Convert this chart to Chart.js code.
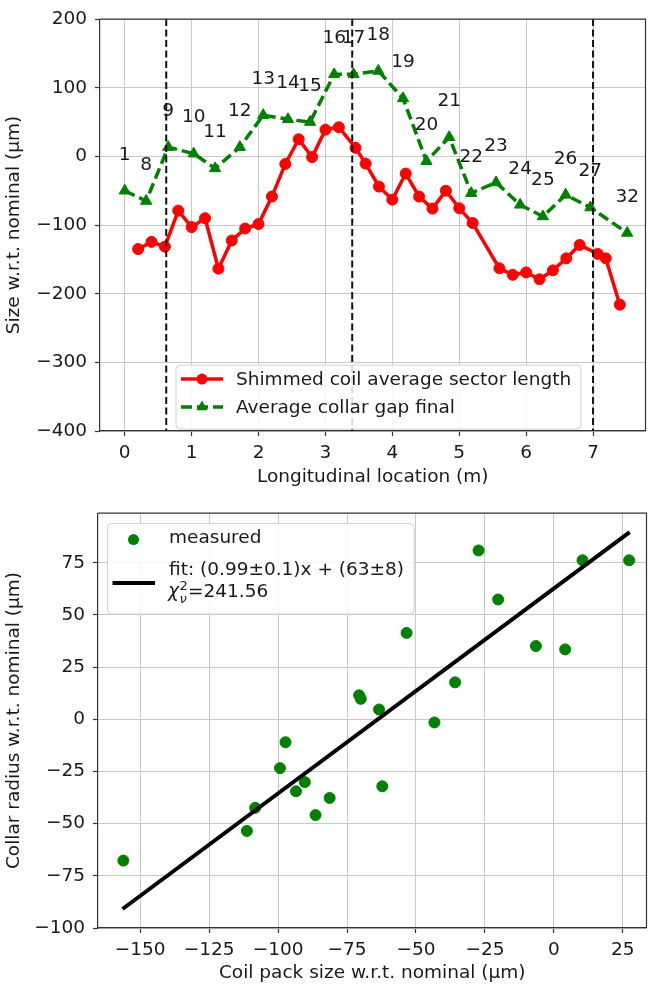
<!DOCTYPE html>
<html>
<head>
<meta charset="utf-8">
<script src="https://cdn.jsdelivr.net/npm/chart.js@4.4.0/dist/chart.umd.min.js"></script>
<style>
  body { margin: 0; background: #fff; }
  canvas { display: block; }
</style>
</head>
<body>
<canvas id="profile" width="653" height="494"></canvas>
<canvas id="correlation" width="653" height="494"></canvas>
<script>
// top panel: shimmed coil sector length and collar gap along the magnet (m, um)
const coilLoc = [0.2, 0.4, 0.6, 0.8, 1.0, 1.2, 1.4, 1.6, 1.8, 2.0, 2.2, 2.4, 2.6, 2.8, 3.0, 3.2, 3.45, 3.6,
  3.8, 4.0, 4.2, 4.4, 4.6, 4.8, 5.0, 5.2, 5.6, 5.8, 6.0, 6.2, 6.4, 6.6, 6.8, 7.07, 7.19, 7.4];
const coilLength = [-135, -124.5, -131.5, -79, -103, -90, -163.5, -122.5, -105, -98.5, -58.5, -11, 25, -1, 39, 42.5, 12.5, -10.5,
  -44, -63, -25, -58.5, -76, -50, -75.5, -97, -163, -172.5, -169, -179, -166, -148.5, -129, -142, -148.5, -216];
const gapLoc = [0, 0.32, 0.65, 1.03, 1.35, 1.72, 2.07, 2.44, 2.77, 3.13, 3.42, 3.79, 4.16, 4.51, 4.85,
  5.18, 5.55, 5.91, 6.25, 6.59, 6.96, 7.51];
const collarGap = [-50, -65, 13.5, 4, -17.5, 13.5, 60, 54, 50, 119.5, 119.5, 124.5, 84.5, -7, 28,
  -53.5, -38, -70.5, -87.5, -56, -74.5, -111.5];
const gapLabels = ['1', '8', '9', '10', '11', '12', '13', '14', '15', '16', '17', '18', '19', '20', '21',
  '22', '23', '24', '25', '26', '27', '32'];
const sectionBounds = [0.62, 3.4, 7.0];

// bottom panel: collar radius against coil pack size (um)
const packSize = [-156.1, -111.3, -108.3, -99.3, -97.3, -93.5, -90.3, -86.4, -81.3, -70.6, -70, -63.4,
  -62.2, -53.4, -43.3, -35.8, -27.3, -20.2, -6.5, 4.1, 10.4, 27.3];
const collarRadius = [-67.7, -53.5, -42.4, -23.4, -11, -34.5, -30.1, -45.9, -37.7, 11.5, 9.8, 4.7,
  -32.1, 41.4, -1.5, 17.7, 80.9, 57.4, 35.1, 33.5, 76.2, 76.2];
const fitX = [-156.4, 27.5];
const fitY = [-90.9, 89.7];

const FONT = '"DejaVu Sans", sans-serif';
const TEXT = '#1a1a1a';
Chart.defaults.font.family = FONT;
Chart.defaults.font.size = 18.5;
Chart.defaults.color = TEXT;

const toXY = (xs, ys) => xs.map((x, i) => ({ x: x, y: ys[i] }));

function axis(o) {
  return {
    type: 'linear',
    min: o.min,
    max: o.max,
    ticks: {
      stepSize: o.step,
      includeBounds: false,
      padding: o.pad,
      autoSkip: false,
      maxRotation: 0,
      callback: v => String(v).replace('-', '\u2212')
    },
    afterBuildTicks: s => {
      s.ticks = s.ticks.filter(t => Math.abs(t.value / o.step - Math.round(t.value / o.step)) < 1e-6);
    },
    grid: { color: '#c8c8c8', lineWidth: 1, tickColor: '#333', tickLength: 5, tickWidth: 1.2 },
    border: { display: true, color: '#333', width: 1.2 },
    title: { display: true, text: o.title, padding: o.titlePad },
    afterFit: s => {
      if (s.isHorizontal()) s.height = o.size;
      else s.width = o.size;
    }
  };
}

function frame(chart) {
  const { ctx, chartArea: a } = chart;
  ctx.save();
  ctx.strokeStyle = '#333';
  ctx.lineWidth = 1.2;
  ctx.beginPath();
  ctx.moveTo(a.left, a.top);
  ctx.lineTo(a.right, a.top);
  ctx.lineTo(a.right, a.bottom);
  ctx.stroke();
  ctx.restore();
}

function legendBox(ctx, left, top, w, h) {
  ctx.beginPath();
  if (ctx.roundRect) ctx.roundRect(left, top, w, h, 4);
  else ctx.rect(left, top, w, h);
  ctx.fillStyle = 'rgba(255,255,255,0.85)';
  ctx.fill();
  ctx.strokeStyle = '#d0d0d0';
  ctx.lineWidth = 1;
  ctx.stroke();
}

function triangle(ctx, x, y, r) {
  ctx.beginPath();
  ctx.moveTo(x, y - r);
  ctx.lineTo(x + r * 0.866, y + r * 0.5);
  ctx.lineTo(x - r * 0.866, y + r * 0.5);
  ctx.closePath();
  ctx.fill();
}

const profileExtras = {
  id: 'profileExtras',
  afterDatasetsDraw(chart) {
    const { ctx, chartArea: a, scales: { x, y } } = chart;
    ctx.save();

    // section boundaries
    ctx.strokeStyle = '#111';
    ctx.lineWidth = 2;
    ctx.setLineDash([7, 3.5]);
    sectionBounds.forEach(v => {
      const px = x.getPixelForValue(v);
      ctx.beginPath();
      ctx.moveTo(px, a.top);
      ctx.lineTo(px, a.bottom);
      ctx.stroke();
    });
    ctx.setLineDash([]);

    // numbers above the collar gap points
    ctx.fillStyle = TEXT;
    ctx.font = '18.5px ' + FONT;
    ctx.textAlign = 'center';
    ctx.textBaseline = 'middle';
    gapLabels.forEach((t, i) => {
      ctx.fillText(t, x.getPixelForValue(gapLoc[i]), y.getPixelForValue(collarGap[i]) - 36);
    });

    // legend
    const bl = a.left + 76, bt = a.top + 346;
    legendBox(ctx, bl, bt, 405, 64);
    const rows = [bt + 14, bt + 42];
    ctx.lineWidth = 3.5;
    ctx.strokeStyle = '#ff0000';
    ctx.beginPath();
    ctx.moveTo(bl + 5, rows[0]);
    ctx.lineTo(bl + 47, rows[0]);
    ctx.stroke();
    ctx.fillStyle = '#ff0000';
    ctx.beginPath();
    ctx.arc(bl + 26, rows[0], 5.5, 0, Math.PI * 2);
    ctx.fill();
    ctx.strokeStyle = '#008000';
    ctx.setLineDash([11, 5]);
    ctx.beginPath();
    ctx.moveTo(bl + 5, rows[1]);
    ctx.lineTo(bl + 47, rows[1]);
    ctx.stroke();
    ctx.setLineDash([]);
    ctx.fillStyle = '#008000';
    triangle(ctx, bl + 26, rows[1], 6.5);
    ctx.fillStyle = TEXT;
    ctx.textAlign = 'left';
    ctx.fillText('Shimmed coil average sector length', bl + 60, rows[0] + 1);
    ctx.fillText('Average collar gap final', bl + 60, rows[1] + 1);
    ctx.restore();
  },
  afterDraw: frame
};

const correlationExtras = {
  id: 'correlationExtras',
  afterDatasetsDraw(chart) {
    const { ctx, chartArea: a } = chart;
    ctx.save();
    const bl = a.left + 9.5, bt = a.top + 10.5;
    legendBox(ctx, bl, bt, 306.5, 90.5);
    ctx.fillStyle = '#008000';
    ctx.beginPath();
    ctx.arc(bl + 26, bt + 16, 5.5, 0, Math.PI * 2);
    ctx.fill();
    ctx.strokeStyle = '#000';
    ctx.lineWidth = 4;
    ctx.beginPath();
    ctx.moveTo(bl + 5, bt + 59.5);
    ctx.lineTo(bl + 47.5, bt + 59.5);
    ctx.stroke();

    ctx.fillStyle = TEXT;
    ctx.textAlign = 'left';
    ctx.textBaseline = 'middle';
    ctx.font = '18.5px ' + FONT;
    ctx.fillText('measured', bl + 61.5, bt + 15);
    ctx.fillText('fit: (0.99\u00b10.1)x + (63\u00b18)', bl + 61.5, bt + 47);
    // chi^2_nu
    const cy = bt + 69;
    let cx = bl + 60.5;
    ctx.font = 'italic 18.5px ' + FONT;
    ctx.fillText('\u03c7', cx, cy);
    cx += ctx.measureText('\u03c7').width + 0.5;
    ctx.font = '13px ' + FONT;
    ctx.fillText('2', cx, cy - 6);
    ctx.font = 'italic 13px ' + FONT;
    ctx.fillText('\u03bd', cx, cy + 7);
    cx += 8.5;
    ctx.font = '18.5px ' + FONT;
    ctx.fillText('=241.56', cx, cy);
    ctx.restore();
  },
  afterDraw: frame
};

new Chart(document.getElementById('profile'), {
  type: 'line',
  data: {
    datasets: [
      {
        label: 'Shimmed coil average sector length',
        data: toXY(coilLoc, coilLength),
        borderColor: '#ff0000',
        backgroundColor: '#ff0000',
        borderWidth: 3.5,
        pointStyle: 'circle',
        pointRadius: 5.5,
        pointBorderWidth: 1,
        order: 1
      },
      {
        label: 'Average collar gap final',
        data: toXY(gapLoc, collarGap),
        borderColor: '#008000',
        backgroundColor: '#008000',
        borderWidth: 3.5,
        borderDash: [11, 5],
        pointStyle: 'triangle',
        pointRadius: 6.5,
        pointBorderWidth: 1,
        order: 0
      }
    ]
  },
  options: {
    responsive: false,
    animation: false,
    layout: { padding: { top: 16, right: 1, left: 0, bottom: 0 } },
    plugins: { legend: { display: false }, tooltip: { enabled: false } },
    scales: {
      x: axis({ min: -0.37, max: 7.784, step: 1, pad: 6, size: 63,
        title: 'Longitudinal location (m)', titlePad: { top: 4, bottom: 6 } }),
      y: axis({ min: -400, max: 200, step: 100, pad: 8, size: 100,
        title: 'Size w.r.t. nominal (\u03bcm)', titlePad: { top: 3, bottom: 3 } })
    }
  },
  plugins: [profileExtras]
});

new Chart(document.getElementById('correlation'), {
  type: 'scatter',
  data: {
    datasets: [
      {
        label: 'measured',
        data: toXY(packSize, collarRadius),
        backgroundColor: '#008000',
        borderColor: '#008000',
        pointRadius: 5.5,
        order: 1
      },
      {
        type: 'line',
        label: 'fit',
        data: toXY(fitX, fitY),
        borderColor: '#000',
        borderWidth: 4,
        pointRadius: 0,
        order: 0
      }
    ]
  },
  options: {
    responsive: false,
    animation: false,
    layout: { padding: { top: 16, right: 1, left: 0, bottom: 0 } },
    plugins: { legend: { display: false }, tooltip: { enabled: false } },
    scales: {
      x: axis({ min: -165.3, max: 33.6, step: 25, pad: 6, size: 60,
        title: 'Coil pack size w.r.t. nominal (\u03bcm)', titlePad: { top: 4, bottom: 3.5 } }),
      y: axis({ min: -100, max: 98.8, step: 25, pad: 8, size: 98,
        title: 'Collar radius w.r.t. nominal (\u03bcm)', titlePad: { top: 3, bottom: 3 } })
    }
  },
  plugins: [correlationExtras]
});
</script>
</body>
</html>
